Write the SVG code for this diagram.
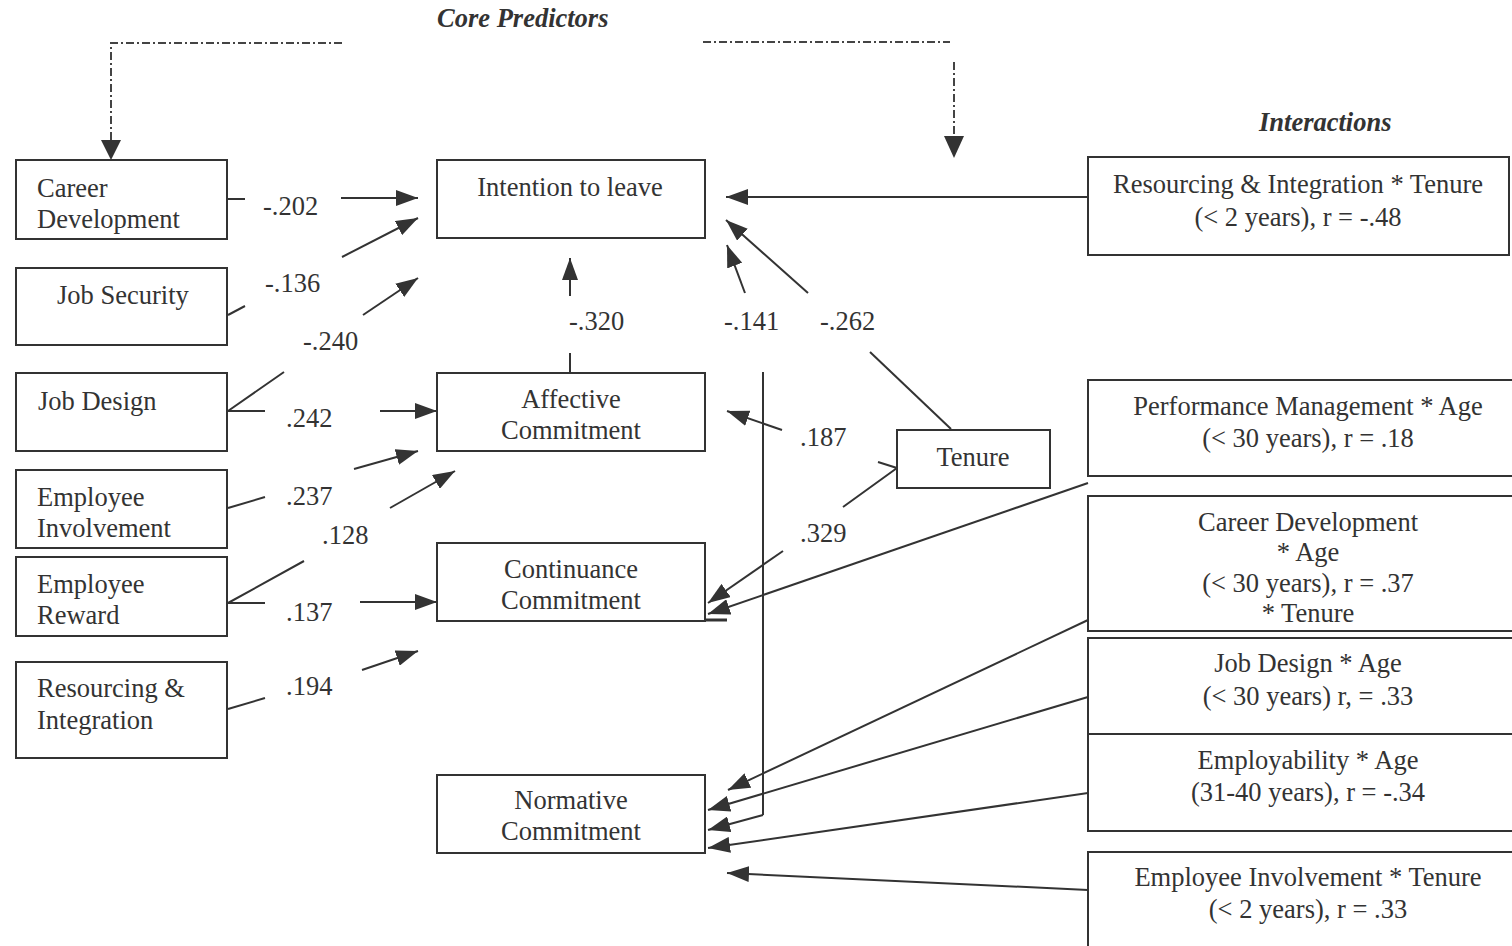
<svg xmlns="http://www.w3.org/2000/svg" width="1512" height="946" viewBox="0 0 1512 946">
  <defs>
    <marker id="head" viewBox="0 0 22 16" refX="22" refY="8" markerWidth="22" markerHeight="16" markerUnits="userSpaceOnUse" orient="auto">
      <path d="M0,0 L22,8 L0,16 z" fill="#333"/>
    </marker>
  </defs>
  <style>
    .box { fill: #fff; stroke: #333; stroke-width: 2; }
    .t { font-family: "Liberation Serif", "Times New Roman", serif; font-size: 26.5px; fill: #333; }
    .c { text-anchor: middle; }
    .title { font-family: "Liberation Serif", "Times New Roman", serif; font-size: 26.5px; font-weight: bold; font-style: italic; fill: #333; }
    .ln { fill: none; stroke: #333; stroke-width: 2; }
    .arr { fill: none; stroke: #333; stroke-width: 2; marker-end: url(#head); }
    .dash { fill: none; stroke: #444; stroke-width: 2; stroke-dasharray: 8 3 2 3; }
  </style>
  <rect width="1512" height="946" fill="#fff"/>

  <!-- headings -->
  <text class="title" x="437" y="27">Core Predictors</text>
  <text class="title" x="1259" y="131">Interactions</text>

  <!-- dash-dot brackets from the Core Predictors heading -->
  <g id="brackets">
    <path class="dash" d="M342,43 H111 V140"/>
    <polygon points="101,140 121,140 111,160" fill="#333"/>
    <path class="dash" d="M703,42 H950"/>
    <path class="dash" d="M954,62 V136"/>
    <polygon points="944,136 964,136 954,158" fill="#333"/>
  </g>

  <!-- predictor nodes -->
  <g id="career-development">
    <rect class="box" x="16" y="160" width="211" height="79"/>
    <text class="t" x="37" y="197">Career</text>
    <text class="t" x="37" y="228">Development</text>
  </g>
  <g id="job-security">
    <rect class="box" x="16" y="268" width="211" height="77"/>
    <text class="t" x="57" y="304">Job Security</text>
  </g>
  <g id="job-design">
    <rect class="box" x="16" y="373" width="211" height="78"/>
    <text class="t" x="38" y="410">Job Design</text>
  </g>
  <g id="employee-involvement">
    <rect class="box" x="16" y="470" width="211" height="78"/>
    <text class="t" x="37" y="506">Employee</text>
    <text class="t" x="37" y="537">Involvement</text>
  </g>
  <g id="employee-reward">
    <rect class="box" x="16" y="557" width="211" height="79"/>
    <text class="t" x="37" y="593">Employee</text>
    <text class="t" x="37" y="624">Reward</text>
  </g>
  <g id="resourcing-integration">
    <rect class="box" x="16" y="662" width="211" height="96"/>
    <text class="t" x="37" y="697">Resourcing &amp;</text>
    <text class="t" x="37" y="729">Integration</text>
  </g>

  <!-- outcome nodes -->
  <g id="intention-to-leave">
    <rect class="box" x="437" y="160" width="268" height="78"/>
    <text class="t c" x="570" y="196">Intention to leave</text>
  </g>
  <g id="affective-commitment">
    <rect class="box" x="437" y="373" width="268" height="78"/>
    <text class="t c" x="571" y="408">Affective</text>
    <text class="t c" x="571" y="439">Commitment</text>
  </g>
  <g id="continuance-commitment">
    <rect class="box" x="437" y="543" width="268" height="78"/>
    <text class="t c" x="571" y="578">Continuance</text>
    <text class="t c" x="571" y="609">Commitment</text>
  </g>
  <g id="normative-commitment">
    <rect class="box" x="437" y="775" width="268" height="78"/>
    <text class="t c" x="571" y="809">Normative</text>
    <text class="t c" x="571" y="840">Commitment</text>
  </g>
  <g id="tenure">
    <rect class="box" x="897" y="430" width="153" height="58"/>
    <text class="t c" x="973" y="466">Tenure</text>
  </g>

  <!-- interaction nodes -->
  <g id="ri-tenure">
    <rect class="box" x="1088" y="157" width="421" height="98"/>
    <text class="t c" x="1298" y="193">Resourcing &amp; Integration * Tenure</text>
    <text class="t c" x="1298" y="226">(&lt; 2 years), r = -.48</text>
  </g>
  <g id="pm-age">
    <rect class="box" x="1088" y="380" width="430" height="96"/>
    <text class="t c" x="1308" y="415">Performance Management * Age</text>
    <text class="t c" x="1308" y="447">(&lt; 30 years), r = .18</text>
  </g>
  <g id="cd-age-tenure">
    <rect class="box" x="1088" y="496" width="430" height="135"/>
    <text class="t c" x="1308" y="531">Career Development</text>
    <text class="t c" x="1308" y="561">* Age</text>
    <text class="t c" x="1308" y="592">(&lt; 30 years), r = .37</text>
    <text class="t c" x="1308" y="622">* Tenure</text>
  </g>
  <g id="jd-age">
    <rect class="box" x="1088" y="638" width="430" height="96"/>
    <text class="t c" x="1308" y="672">Job Design * Age</text>
    <text class="t c" x="1308" y="705">(&lt; 30 years) r, = .33</text>
  </g>
  <g id="employability-age">
    <rect class="box" x="1088" y="734" width="430" height="97"/>
    <text class="t c" x="1308" y="769">Employability * Age</text>
    <text class="t c" x="1308" y="801">(31-40 years), r = -.34</text>
  </g>
  <g id="ei-tenure">
    <rect class="box" x="1088" y="852" width="430" height="100"/>
    <text class="t c" x="1308" y="886">Employee Involvement * Tenure</text>
    <text class="t c" x="1308" y="918">(&lt; 2 years), r = .33</text>
  </g>

  <!-- paths and coefficients -->
  <g id="connectors">
    <!-- predictors to outcomes -->
    <path class="ln" d="M228,199 H245"/>
    <path class="arr" d="M341,198 H418"/>
    <path class="ln" d="M228,315 L245,306"/>
    <path class="arr" d="M342,257 L418,218"/>
    <path class="ln" d="M228,411 L284,372 M228,411 H265"/>
    <path class="arr" d="M363,315 L418,278"/>
    <path class="arr" d="M380,411 H437"/>
    <path class="ln" d="M228,508 L265,497"/>
    <path class="arr" d="M354,469 L418,451"/>
    <path class="ln" d="M228,603 L304,561 M228,603 H265"/>
    <path class="arr" d="M390,508 L455,471"/>
    <path class="arr" d="M360,602 H437"/>
    <path class="ln" d="M228,709 L265,698"/>
    <path class="arr" d="M362,670 L418,651"/>

    <!-- commitment to intention -->
    <path class="ln" d="M570,353 V372"/>
    <path class="arr" d="M570,296 V258"/>
    <path class="ln" d="M763,372 V815"/>
    <path class="arr" d="M763,815 L708,830"/>
    <path class="arr" d="M745,293 L727,245"/>
    <path class="arr" d="M808,293 L726,220"/>
    <path class="ln" d="M951,429 L870,352"/>

    <!-- tenure paths -->
    <path class="arr" d="M782,430 L727,411"/>
    <path class="ln" d="M878,462 L897,468 M843,507 L897,468"/>
    <path class="arr" d="M783,551 L708,603"/>

    <!-- interactions -->
    <path class="arr" d="M1088,197 H726"/>
    <path class="arr" d="M1088,483 L708,614"/>
    <path class="ln" d="M705,620 H727" style="stroke-width:3"/>
    <path class="arr" d="M1088,620 L728,790"/>
    <path class="arr" d="M1088,697 L708,810"/>
    <path class="arr" d="M1088,793 L708,848"/>
    <path class="arr" d="M1088,890 L727,873"/>

    <!-- coefficient labels -->
    <text class="t" x="263" y="215">-.202</text>
    <text class="t" x="265" y="292">-.136</text>
    <text class="t" x="303" y="350">-.240</text>
    <text class="t" x="286" y="427">.242</text>
    <text class="t" x="286" y="505">.237</text>
    <text class="t" x="322" y="544">.128</text>
    <text class="t" x="286" y="621">.137</text>
    <text class="t" x="286" y="695">.194</text>
    <text class="t" x="569" y="330">-.320</text>
    <text class="t" x="724" y="330">-.141</text>
    <text class="t" x="820" y="330">-.262</text>
    <text class="t" x="800" y="446">.187</text>
    <text class="t" x="800" y="542">.329</text>
  </g>
</svg>
